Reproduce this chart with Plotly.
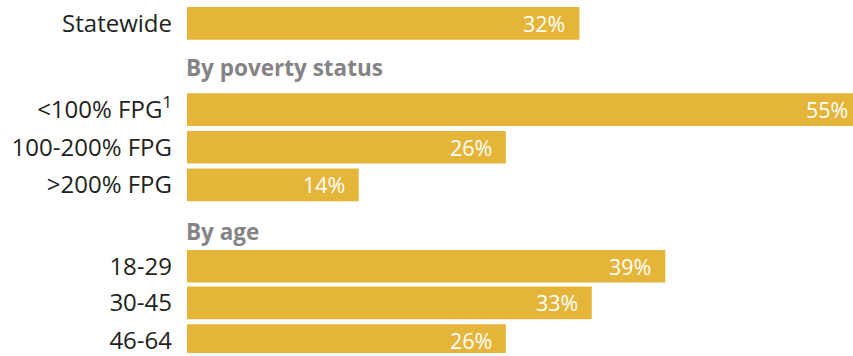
import plotly.graph_objects as go

# Data
categories = ["Statewide", "<100% FPG<sup>1</sup>", "100-200% FPG", ">200% FPG", "18-29", "30-45", "46-64"]
values = [32, 55, 26, 14, 39, 33, 26]
group_headers = ["By poverty status", "By age"]

# Layout (vertical positions in pixel-like units, top = 0)
row_pos = [23.5, 110.5, 148.5, 186.5, 268.5, 305.5, 343.5]
header_pos = [68, 233]
X_MAX = 54.3
WIDTH, HEIGHT, LEFT = 853, 356, 187
PX_PER_UNIT = (WIDTH - LEFT) / X_MAX

BAR_COLOR = "#E5B53A"
LABEL_COLOR = "#231F20"
HEADER_COLOR = "#848486"
FONT = "Open Sans"

fig = go.Figure()
fig.add_trace(go.Bar(
    x=values, y=row_pos, orientation="h", width=33,
    marker=dict(color=BAR_COLOR, line=dict(width=0)),
    hoverinfo="skip",
))

annotations = []
for v, y in zip(values, row_pos):
    xv = min(v, X_MAX)
    # bars running past the view edge keep their label where the real bar end would put it
    extra = (v - xv) * PX_PER_UNIT
    annotations.append(dict(
        x=xv, y=y, xref="x", yref="y", text=f"{v}%",
        showarrow=False, xanchor="right", yanchor="middle", xshift=-12 + extra,
        font=dict(family=FONT, size=21.5, color="white"),
    ))
for t, y in zip(group_headers, header_pos):
    annotations.append(dict(
        x=0, y=y, xref="paper", yref="y", text=f"<b>{t}</b>",
        showarrow=False, xanchor="left", yanchor="middle", xshift=-3,
        font=dict(family=FONT, size=22.5, color=HEADER_COLOR),
    ))

fig.update_layout(
    width=WIDTH, height=HEIGHT,
    margin=dict(l=LEFT, r=0, t=0, b=0),
    paper_bgcolor="white", plot_bgcolor="white",
    showlegend=False,
    annotations=annotations,
    xaxis=dict(range=[0, X_MAX], visible=False, fixedrange=True),
    yaxis=dict(
        range=[HEIGHT, 0], tickvals=row_pos, ticktext=categories,
        showgrid=False, zeroline=False, showline=False, ticks="",
        ticklabelstandoff=14, ticklabeloverflow="allow",
        tickfont=dict(family=FONT, size=24, color=LABEL_COLOR),
        fixedrange=True,
    ),
)

fig.write_html("out.html")
